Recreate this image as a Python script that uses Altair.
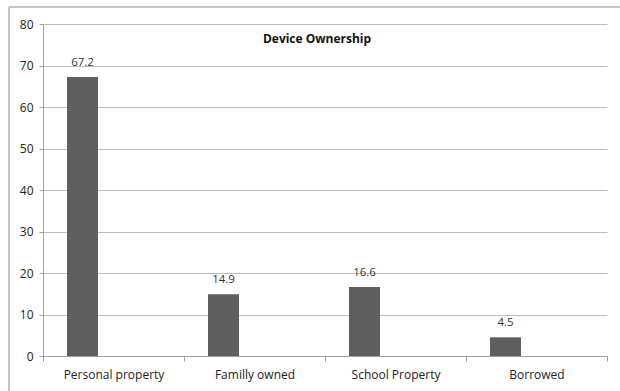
import altair as alt
import pandas as pd

categories = ["Personal property", "Familly owned", "School Property", "Borrowed"]
values = [67.2, 14.9, 16.6, 4.5]
y_ticks = [0, 10, 20, 30, 40, 50, 60, 70, 80]

df = pd.DataFrame({"category": categories, "value": values})

FONT = "Open Sans"
W, H = 564, 332

x = alt.X("category:N", sort=categories, title=None,
          scale=alt.Scale(paddingInner=0, paddingOuter=0),
          axis=alt.Axis(labelAngle=0, tickBand="extent", tickSize=5,
                        tickColor="#a0a0a0", domainColor="#a0a0a0",
                        labelFont=FONT, labelFontSize=12, labelColor="#222222",
                        labelPadding=8, grid=False))
y = alt.Y("value:Q", title=None,
          scale=alt.Scale(domain=[0, 80], nice=False),
          axis=alt.Axis(values=y_ticks, tickSize=4, tickColor="#a0a0a0",
                        domainColor="#a0a0a0", gridColor="#bdbdbd",
                        labelFont=FONT, labelFontSize=12, labelColor="#222222",
                        labelPadding=6))

base = alt.Chart(df)

bars = base.mark_bar(color="#5f5f5f", width=31, xOffset=-31).encode(x=x, y=y)
labels = base.mark_text(font=FONT, fontSize=11.5, color="#333333", dy=-9,
                        xOffset=-31, baseline="bottom").encode(
    x=alt.X("category:N", sort=categories), y="value:Q", text=alt.Text("value:Q", format=".1f"))

frame_top = alt.Chart(df).mark_rule(color="#c4c4c4", strokeWidth=1.5).encode(
    x=alt.value(-34), x2=alt.value(W + 20), y=alt.value(-17))
frame_left = alt.Chart(df).mark_rule(color="#c4c4c4", strokeWidth=1.5).encode(
    x=alt.value(-34), y=alt.value(-17), y2=alt.value(H + 40))

chart = alt.layer(bars, labels, frame_top, frame_left).properties(
    width=W, height=H,
    title=alt.TitleParams("Device Ownership", font=FONT, fontSize=12, fontWeight="bold",
                          color="#111111", anchor="middle", offset=-22, dx=-8, dy=18),
    padding={"left": 43, "top": 24, "right": 13, "bottom": 35},
    autosize=alt.AutoSizeParams(type="none"),
).configure_view(stroke=None).configure_axisY(domain=True)

chart.save("out.html", embed_options={"renderer": "svg", "actions": False})
